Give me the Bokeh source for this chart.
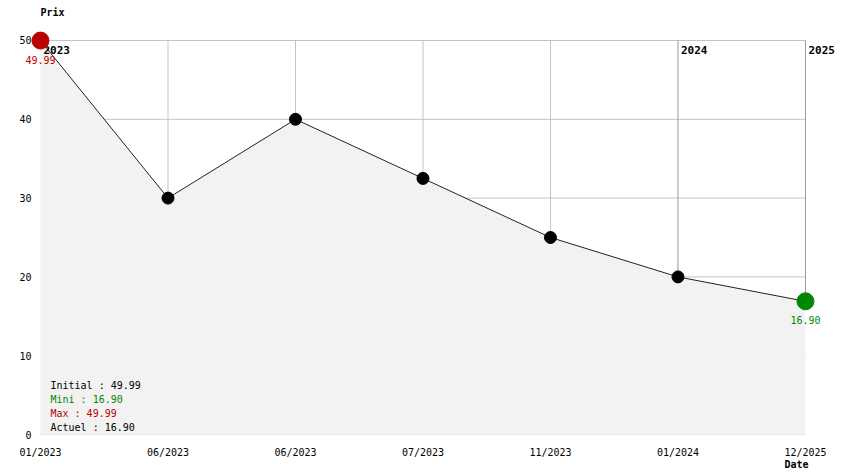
from bokeh.plotting import figure
from bokeh.models import Range1d, FixedTicker, Label, Title
from bokeh.embed import file_html
from bokeh.resources import INLINE

# ---- data ----
date_labels = ["01/2023", "06/2023", "06/2023", "07/2023", "11/2023", "01/2024", "12/2025"]
prices = [49.99, 30.0, 40.0, 32.5, 25.0, 20.0, 16.90]
year_names = ["2023", "2024", "2025"]
year_index = [0, 5, 6]
y_ticks = [0, 10, 20, 30, 40, 50]

xs = list(range(len(prices)))
initial = prices[0]
mini = min(prices)
maxi = max(prices)
actuel = prices[-1]

FONT = "DejaVu Sans Mono"
RED = "#bb0000"
GREEN = "#008800"

p = figure(width=844, height=474, output_backend="svg", toolbar_location=None,
           x_range=Range1d(-0.1333, 6.259), y_range=Range1d(0, 55.076),
           min_border_left=23, min_border_right=6, min_border_top=0, min_border_bottom=40)
p.outline_line_color = None
p.grid.visible = False
p.background_fill_color = "white"

# axes styling
for ax in (p.xaxis[0], p.yaxis[0]):
    ax.axis_line_color = None
    ax.major_tick_line_color = None
    ax.minor_tick_line_color = None
    ax.major_tick_out = 0
    ax.major_tick_in = 0
    ax.major_label_text_font = FONT
    ax.major_label_text_font_size = "10px"
    ax.major_label_text_color = "black"
p.xaxis.ticker = FixedTicker(ticks=xs)
p.xaxis.major_label_overrides = {i: lab for i, lab in enumerate(date_labels)}
p.xaxis.major_label_standoff = 12
p.yaxis.ticker = FixedTicker(ticks=y_ticks)
p.yaxis.major_label_standoff = -8

p.add_layout(Title(text="Date", align="left", offset=761, standoff=-8,
                   text_font=FONT, text_font_size="10px", text_font_style="bold",
                   text_color="black"), "below")

top = y_ticks[-1]

# "Prix" axis title
p.add_layout(Label(x=xs[0], y=top, text="Prix", y_offset=28,
                   text_font=FONT, text_font_size="10px", text_font_style="bold",
                   text_align="left", text_baseline="middle", text_color="black"))

# grid lines (within data region, above the filled area)
p.segment(x0=[xs[0]] * len(y_ticks), y0=y_ticks, x1=[xs[-1]] * len(y_ticks), y1=y_ticks,
          line_color="#c4c4c4", line_width=1)
grid_x = [x for x in xs if x not in year_index]
p.segment(x0=grid_x, y0=[prices[x] for x in grid_x], x1=grid_x, y1=[top] * len(grid_x),
          line_color="#c4c4c4", line_width=1)
p.segment(x0=year_index, y0=[prices[x] for x in year_index], x1=year_index, y1=[top] * len(year_index),
          line_color="#9a9a9a", line_width=1)

# fill + line + points
p.varea(x=xs, y1=[0] * len(xs), y2=prices, fill_color="#f2f2f2")
p.line(xs, prices, line_color="#222222", line_width=1)
p.scatter(xs[1:-1], prices[1:-1], size=12, fill_color="black", line_color="black")

# year labels
for name, i in zip(year_names, year_index):
    p.add_layout(Label(x=i, y=top, text=name, x_offset=3, y_offset=-10,
                       text_font=FONT, text_font_size="11px", text_font_style="bold",
                       text_baseline="middle", text_align="left", text_color="black"))

p.scatter([xs[0]], [prices[0]], size=17, fill_color=RED, line_color=RED, level="overlay")
p.scatter([xs[-1]], [prices[-1]], size=17, fill_color=GREEN, line_color=GREEN, level="overlay")

# first/last value labels
p.add_layout(Label(x=xs[0], y=prices[0], text="%.2f" % prices[0], y_offset=-19,
                   text_font=FONT, text_font_size="10px", text_color=RED,
                   text_align="center", text_baseline="middle"))
p.add_layout(Label(x=xs[-1], y=prices[-1], text="%.2f" % prices[-1], y_offset=-19,
                   text_font=FONT, text_font_size="10px", text_color=GREEN,
                   text_align="center", text_baseline="middle"))

# stats box
stats = [("Initial : %.2f" % initial, "black"),
         ("Mini : %.2f" % mini, GREEN),
         ("Max : %.2f" % maxi, RED),
         ("Actuel : %.2f" % actuel, "black")]
for k, (txt, col) in enumerate(stats):
    p.add_layout(Label(x=xs[0], y=0, text=txt, x_offset=10, y_offset=49 - 14 * k,
                       text_font=FONT, text_font_size="10px", text_color=col,
                       text_align="left", text_baseline="middle"))

open("out.html", "w").write(file_html(p, INLINE))
